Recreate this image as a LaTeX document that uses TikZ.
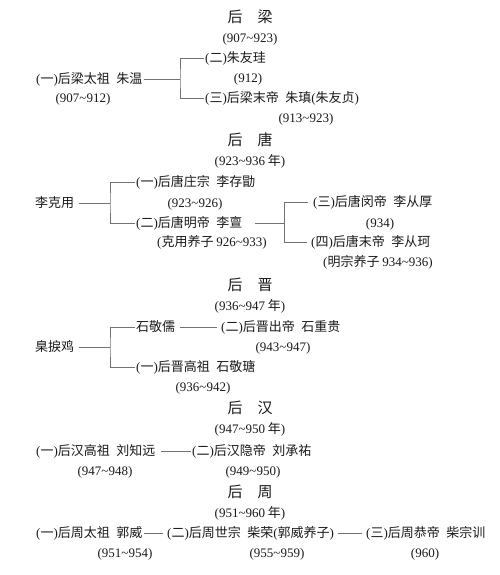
\documentclass[tikz,border=0pt]{standalone}
\usepackage{fontspec}
\setmainfont{Noto Sans CJK SC}
\newfontfamily\lat{Liberation Serif}
\usetikzlibrary{positioning}
\newcommand\xh[1]{{\lat(}#1{\lat)}}
\newcommand\yrs[1]{{\lat(#1)}}
\newcommand\tld{\textasciitilde}
\tikzset{
  ren/.style={inner sep=1pt,text height=11pt,text depth=2pt,anchor=west,font=\fontsize{13}{15}\selectfont},
  nian/.style={inner sep=1pt,text height=11pt,text depth=2pt,font=\fontsize{13}{15}\selectfont},
  chao/.style={inner sep=1pt,font=\fontsize{15}{18}\selectfont},
  xian/.style={draw=black!55,line width=0.6pt}
}
\begin{document}
\begin{tikzpicture}[x=1pt,y=-1pt,node distance=21pt,text=black!90]
  \useasboundingbox (0,0) rectangle (500,575);

  % hou liang
  \node[chao] (liang) at (250,17) {后\hspace{1em}梁};
  \node[nian] (liangy) [below of=liang] {\yrs{907\tld923}};
  \node[ren] (lz1) at (35,79) {\xh{一}后梁太祖\enspace 朱温};
  \node[nian] (lz1y) at (83,98) {\yrs{907\tld912}};
  \node[ren] (lz2) at (204,58) {\xh{二}朱友珪};
  \node[nian] (lz2y) at (248,78) {\yrs{912}};
  \node[ren] (lz3) at (204,98) {\xh{三}后梁末帝\enspace 朱瑱\xh{朱友贞}};
  \node[nian] (lz3y) at (306,118) {\yrs{913\tld923}};
  \coordinate (fl) at (180,79);
  \draw[xian] (lz1) -- (fl);
  \draw[xian] (lz2.west) -| (fl) |- (lz3.west);

  % hou tang
  \node[chao] (tang) at (250,140) {后\hspace{1em}唐};
  \node[nian] (tangy) [below of=tang] {{\lat(923\tld936} 年{\lat)}};
  \node[ren] (lt0) at (34,203) {李克用};
  \node[ren] (lt1) at (135,182) {\xh{一}后唐庄宗\enspace 李存勖};
  \node[nian] (lt1y) at (195,203) {\yrs{923\tld926}};
  \node[ren] (lt2) at (135,223) {\xh{二}后唐明帝\enspace 李亶};
  \node[nian] (lt2y) at (212,242) {{\lat(}克用养子 {\lat 926\tld933)}};
  \node[ren] (lt3) at (312,202) {\xh{三}后唐闵帝\enspace 李从厚};
  \node[nian] (lt3y) at (380,223) {\yrs{934}};
  \node[ren] (lt4) at (310,242) {\xh{四}后唐末帝\enspace 李从珂};
  \node[nian] (lt4y) at (378,262) {{\lat(}明宗养子 {\lat 934\tld936)}};
  \coordinate (ft1) at (110,203);
  \coordinate (ft2) at (284,223);
  \draw[xian,shorten <=4pt] (lt0) -- (ft1);
  \draw[xian] (lt1.west) -| (ft1) |- (lt2.west);
  \draw[xian,shorten <=11pt] (lt2) -- (ft2);
  \draw[xian,shorten <=4pt] (lt3.west) -| (ft2);
  \draw[xian,shorten >=3pt] (ft2) |- (lt4.west);

  % hou jin
  \node[chao] (jin) at (250,285) {后\hspace{1em}晋};
  \node[nian] (jiny) [below of=jin] {{\lat(936\tld947} 年{\lat)}};
  \node[ren] (lj0) at (34,347) {臬捩鸡};
  \node[ren] (lj1) at (135,327) {石敬儒};
  \node[ren] (lj2) at (220,327) {\xh{二}后晋出帝\enspace 石重贵};
  \node[nian] (lj2y) at (283,347) {\yrs{943\tld947}};
  \node[ren] (lj3) at (135,367) {\xh{一}后晋高祖\enspace 石敬瑭};
  \node[nian] (lj3y) at (203,387) {\yrs{936\tld942}};
  \coordinate (fj) at (110,347);
  \draw[xian,shorten <=4pt] (lj0) -- (fj);
  \draw[xian] (lj1.west) -| (fj) |- (lj3.west);
  \draw[xian,shorten <=4pt,shorten >=3pt] (lj1) -- (lj2);

  % hou han
  \node[chao] (han) at (250,408) {后\hspace{1em}汉};
  \node[nian] (hany) [below of=han] {{\lat(947\tld950} 年{\lat)}};
  \node[ren] (lh1) at (35,451) {\xh{一}后汉高祖\enspace 刘知远};
  \node[nian] (lh1y) at (105,471) {\yrs{947\tld948}};
  \node[ren] (lh2) at (191,451) {\xh{二}后汉隐帝\enspace 刘承祐};
  \node[nian] (lh2y) at (253,471) {\yrs{949\tld950}};
  \draw[xian,shorten <=4pt] (lh1) -- (lh2);

  % hou zhou
  \node[chao] (zhou) at (250,492) {后\hspace{1em}周};
  \node[nian] (zhouy) [below of=zhou] {{\lat(951\tld960} 年{\lat)}};
  \node[ren] (lzh1) at (35,533) {\xh{一}后周太祖\enspace 郭威};
  \node[nian] (lzh1y) at (125,553) {\yrs{951\tld954}};
  \node[ren] (lzh2) at (166,533) {\xh{二}后周世宗\enspace 柴荣\xh{郭威养子}};
  \node[nian] (lzh2y) at (277,553) {\yrs{955\tld959}};
  \node[ren] (lzh3) at (365,533) {\xh{三}后周恭帝\enspace 柴宗训};
  \node[nian] (lzh3y) at (425,553) {\yrs{960}};
  \draw[xian,shorten >=3pt] (lzh1) -- (lzh2);
  \draw[xian,shorten <=3pt,shorten >=3pt] (lzh2) -- (lzh3);
\end{tikzpicture}
\end{document}
